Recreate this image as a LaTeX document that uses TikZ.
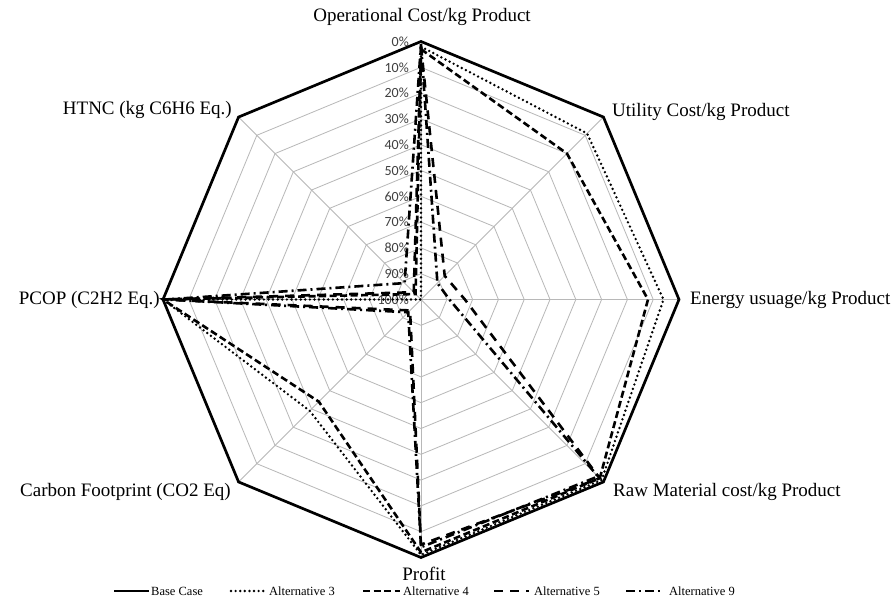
\documentclass[tikz,border=0pt]{standalone}
\usepackage{fontspec}
\setmainfont{Liberation Serif}
\newfontfamily\tickfont{Carlito}
\begin{document}
\begin{tikzpicture}[x=1pt,y=1pt,
  gridline/.style={draw=black!28, line width=0.8pt},
  basecase/.style={line width=2.7pt, line join=miter},
  altthree/.style={line width=2.7pt, line cap=round, dash pattern=on 0pt off 4.6pt},
  altfour/.style={line width=2.6pt, dash pattern=on 7pt off 3.5pt},
  altfive/.style={line width=2.6pt, dash pattern=on 9pt off 7pt},
  altnine/.style={line width=2.6pt, dash pattern=on 9pt off 4pt on 2pt off 4pt},
  axlabel/.style={font=\fontsize{19}{22}\selectfont, inner sep=0pt},
  ticklabel/.style={font=\tickfont\fontsize{14}{16}\selectfont, text=black!75, anchor=east, inner sep=0pt},
  legtext/.style={font=\fontsize{12.5}{14}\selectfont, anchor=west, inner sep=0pt}]
\useasboundingbox (0,0) rectangle (893,610);
\fill[white] (0,0) rectangle (893,610);

\begin{scope}[shift={(421,310.5)}]
  % concentric octagons, one per 10% step
  \foreach \k in {1,...,10}{
    \draw[gridline] (0:{25.8*\k}) \foreach \a in {45,90,...,315}{ -- (\a:{25.8*\k}) } -- cycle;
  }
  % spokes
  \foreach \a in {0,45,...,315}{ \draw[gridline] (0,0) -- (\a:258); }
  % scale along the vertical spoke (0% outside, 100% at the centre)
  \foreach \k [evaluate=\k as \p using int(10*\k)] in {0,...,10}{
    \node[ticklabel] (tick\k) at (-12,{258-25.8*\k}) {\p\%};
  }

  % series: Operational, Utility, Energy, Raw Material, Profit, Carbon, PCOP, HTNC
  \draw[basecase] (90:258) -- (45:258) -- (0:258) -- (-45:258) -- (-90:258)
     -- (-135:258) -- (180:258) -- (135:258) -- cycle;
  \draw[altthree] (90:252.8) -- (45:234.8) -- (0:242.5) -- (-45:255.4) -- (-90:255.4)
     -- (-135:157.4) -- (180:258) -- (0,0) -- cycle;
  \draw[altfour] (90:250.3) -- (45:206.4) -- (0:227.0) -- (-45:252.8) -- (-90:252.8)
     -- (-135:144.5) -- (180:258) -- (135:7.7) -- cycle;
  \draw[altfive] (90:252.8) -- (45:33.5) -- (0:43.9) -- (-45:252.8) -- (-90:245.1)
     -- (-135:15.5) -- (180:258) -- (135:10.3) -- cycle;
  \draw[altnine] (90:255.4) -- (45:23.2) -- (0:28.4) -- (-45:250.3) -- (-90:247.7)
     -- (-135:18.1) -- (180:255.4) -- (135:23.2) -- cycle;
\end{scope}

% axis titles
\node[axlabel] (op) at (422,593) {Operational Cost/kg Product};
\node[axlabel, anchor=west] (util) at (612,498) {Utility Cost/kg Product};
\node[axlabel, anchor=west] (energy) at (690,310) {Energy usuage/kg Product};
\node[axlabel, anchor=west] (raw) at (613,118) {Raw Material cost/kg Product};
\node[axlabel] (profit) at (424,36) {Profit};
\node[axlabel, anchor=east] (carbon) at (231,118) {Carbon Footprint (CO2 Eq)};
\node[axlabel, anchor=east] (pcop) at (160,310) {PCOP (C2H2 Eq.)};
\node[axlabel, anchor=east] (htnc) at (232,500) {HTNC (kg C6H6 Eq.)};

% legend
\coordinate (l1a) at (114,19); \coordinate (l1b) at (149,19);
\coordinate (l2a) at (231,19); \coordinate (l2b) at (266,19);
\coordinate (l3a) at (363,19); \coordinate (l3b) at (400,19);
\coordinate (l4a) at (494,19); \coordinate (l4b) at (529,19);
\coordinate (l5a) at (626,19); \coordinate (l5b) at (663,19);
\draw[basecase] (l1a) -- (l1b);
\draw[altthree] (l2a) -- (l2b);
\draw[altfour] (l3a) -- (l3b);
\draw[altfive] (l4a) -- (l4b);
\draw[altnine] (l5a) -- (l5b);
\node[legtext] (leg1) at (151,19) {Base Case};
\node[legtext] (leg2) at (269,19) {Alternative 3};
\node[legtext] (leg3) at (403,19) {Alternative 4};
\node[legtext] (leg4) at (534,19) {Alternative 5};
\node[legtext] (leg5) at (669,19) {Alternative 9};
\end{tikzpicture}
\end{document}
